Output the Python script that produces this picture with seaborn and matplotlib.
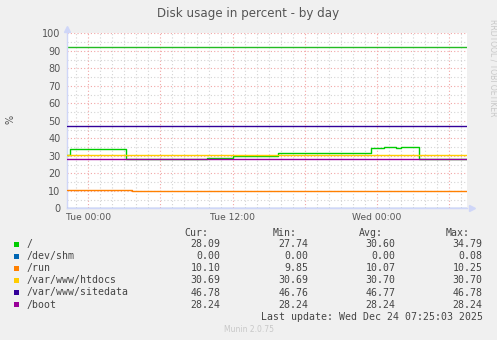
import matplotlib
matplotlib.use("Agg")
import matplotlib.pyplot as plt
import seaborn as sns
import pandas as pd
from matplotlib.patches import Rectangle

# ---- data (hours relative to Tue 00:00) ----
x_start, x_end = -1.8, 31.48

root_t = [-1.80, -1.52, 3.11, 9.85, 12.04, 15.76, 23.49, 24.63, 25.60, 25.99, 27.54, 31.48]
root_v = [30.45, 33.90, 28.10, 28.50, 29.90, 31.40, 34.30, 34.79, 34.30, 34.79, 28.09, 28.09]

shm_t = [-1.80, 31.48]
shm_v = [0.00, 0.00]

run_t = [-1.80, 3.64, 14.06, 28.43, 29.90, 31.48]
run_v = [10.25, 9.85, 10.10, 9.90, 10.10, 10.10]

htdocs_t = [-1.80, 31.48]
htdocs_v = [30.69, 30.69]

sitedata_t = [-1.80, 31.48]
sitedata_v = [46.78, 46.78]

boot_t = [-1.80, 31.48]
boot_v = [28.24, 28.24]

warning_level = 92

labels = ["/", "/dev/shm", "/run", "/var/www/htdocs", "/var/www/sitedata", "/boot"]
cur = ["28.09", "0.00", "10.10", "30.69", "46.78", "28.24"]
mins = ["27.74", "0.00", "9.85", "30.69", "46.76", "28.24"]
avgs = ["30.60", "0.00", "10.07", "30.70", "46.77", "28.24"]
maxs = ["34.79", "0.08", "10.25", "30.70", "46.78", "28.24"]

tick_pos = [0, 6, 12, 18, 24, 30]
tick_lab = ["Tue 00:00", "", "Tue 12:00", "", "Wed 00:00", ""]

colors = ["#00CC00", "#0066B3", "#FF8000", "#FFCC00", "#330099", "#990099"]
line_colors = ["#00CC00", "#7f9fe0", "#FF8000", "#FFCC00", "#330099", "#990099"]

series = [(root_t, root_v), (shm_t, shm_v), (run_t, run_v),
          (htdocs_t, htdocs_v), (sitedata_t, sitedata_v), (boot_t, boot_v)]

sns.set_theme(style="white")
plt.rcParams['font.family'] = ['DejaVu Sans']

W, H = 497, 340
fig = plt.figure(figsize=(W / 100, H / 100), dpi=100)
fig.patch.set_facecolor("#F0F0F0")

ax_l, ax_r, ax_t, ax_b = 66.7, 466.7, 33.3, 208.3
ax = fig.add_axes([ax_l / W, 1 - ax_b / H, (ax_r - ax_l) / W, (ax_b - ax_t) / H])
ax.set_facecolor("white")

# grid
for y in range(5, 100, 10):
    ax.axhline(y, color="#d4d4d4", lw=0.8, ls=(0, (1, 2)), zorder=0)
for y in range(10, 101, 10):
    ax.axhline(y, color="#f2a6a6", lw=0.8, ls=(0, (1, 2)), zorder=0)
for h in range(-1, 32):
    if h % 6 != 0:
        ax.axvline(h, color="#d4d4d4", lw=0.8, ls=(0, (1, 2)), zorder=0)
for h in tick_pos:
    ax.axvline(h, color="#f2a6a6", lw=0.8, ls=(0, (1, 2)), zorder=0)

ax.axhline(warning_level, color="#22bb22", lw=1.0, zorder=2)

for (t, v), lab, c in zip(series, labels, line_colors):
    df = pd.DataFrame({"t": t, "v": v})
    sns.lineplot(data=df, x="t", y="v", ax=ax, color=c, lw=1.0,
                 drawstyle="steps-post", estimator=None, sort=False, zorder=3)

ax.set_xlim(x_start, x_end)
ax.set_ylim(0, 100)
ax.set_xlabel("")
ax.set_ylabel("")
ax.set_xticks(tick_pos)
ax.set_xticklabels(tick_lab)
ax.set_yticks(range(0, 101, 10))
ax.tick_params(axis="x", length=0, pad=3.5, labelsize=6.6, colors="#555555")
ax.tick_params(axis="y", length=0, pad=4.5, labelsize=7, colors="#555555")
for s in ["top", "right"]:
    ax.spines[s].set_visible(False)
for s in ["left", "bottom"]:
    ax.spines[s].set_color("#CFD6F8")
    ax.spines[s].set_linewidth(1.0)
ax.spines["bottom"].set_zorder(1)

# arrows
ax.plot([0], [1.025], marker="^", ms=4, color="#CFD6F8", transform=ax.transAxes, clip_on=False)
ax.plot([1.013], [0], marker=">", ms=4, color="#CFD6F8", transform=ax.transAxes, clip_on=False)

def fy(y):
    return 1 - y / H

def fx(x):
    return x / W

fig.text(fx(248.5), fy(13.5), "Disk usage in percent - by day", ha="center", va="center",
         fontsize=8.6, color="#555555")
fig.text(fx(10), fy(119), "%", ha="center", va="center", rotation=90, fontsize=7, color="#555555")
fig.text(fx(493), fy(116.7), "RRDTOOL / TOBI OETIKER", ha="center", va="bottom", rotation=270,
         fontsize=5.5, color="#c8c8c8")

mono = dict(family="DejaVu Sans Mono", fontsize=7.1, color="#444444", va="center")
hdr_y = 233
fig.text(fx(208.3), fy(hdr_y), "Cur:", ha="right", **mono)
fig.text(fx(296.7), fy(hdr_y), "Min:", ha="right", **mono)
fig.text(fx(383.3), fy(hdr_y), "Avg:", ha="right", **mono)
fig.text(fx(470.0), fy(hdr_y), "Max:", ha="right", **mono)

row0, step = 244.3, 12.05
for i, lab in enumerate(labels):
    y = row0 + i * step
    fig.patches.append(Rectangle((fx(14), fy(y + 2.6)), 5.3 / W, 5.3 / H,
                                 transform=fig.transFigure, facecolor=colors[i], edgecolor="none"))
    fig.text(fx(26.7), fy(y), lab, ha="left", **mono)
    fig.text(fx(220.7), fy(y), cur[i], ha="right", **mono)
    fig.text(fx(308.7), fy(y), mins[i], ha="right", **mono)
    fig.text(fx(395.7), fy(y), avgs[i], ha="right", **mono)
    fig.text(fx(482.7), fy(y), maxs[i], ha="right", **mono)

fig.text(fx(482.7), fy(316.7), "Last update: Wed Dec 24 07:25:03 2025", ha="right", **mono)
fig.text(fx(248.5), fy(329), "Munin 2.0.75", ha="center", va="center", fontsize=5.5, color="#c8c8c8")

fig.savefig("out.png", dpi=100, facecolor=fig.get_facecolor())
